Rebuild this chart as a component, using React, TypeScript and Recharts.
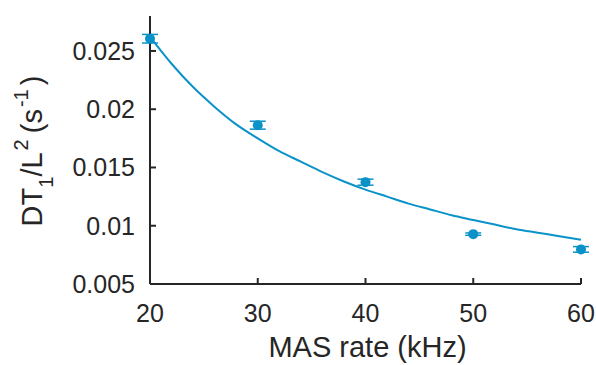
import React from 'react';
import { ComposedChart, Line, Scatter, XAxis, YAxis, ErrorBar } from 'recharts';

const masRates = [20, 30, 40, 50, 60];
const dtValues = [0.02605, 0.01863, 0.01374, 0.00928, 0.00797];
const dtErrors = [0.00037, 0.00034, 0.00026, 0.0001, 0.00024];

const fitX = [20, 22, 24, 26, 28, 30, 32, 34, 36, 38, 40, 42, 44, 46, 48, 50, 52, 54, 56, 58, 60];
const fitY = [0.0262, 0.0239, 0.0219, 0.0202, 0.0187, 0.0175, 0.0164, 0.0155, 0.0146, 0.0138, 0.0131, 0.0125, 0.0119, 0.0114, 0.0109, 0.0105, 0.0101, 0.0097, 0.0094, 0.0091, 0.0088];

const xTicks = [20, 30, 40, 50, 60];
const yTicks = [0.005, 0.01, 0.015, 0.02, 0.025];
const yTickLabels = ['0.005', '0.01', '0.015', '0.02', '0.025'];

const points = masRates.map((x, i) => ({ x, y: dtValues[i], err: dtErrors[i] }));
const fit = fitX.map((x, i) => ({ x, y: fitY[i] }));

const BLUE = '#0b93c9';
const AXIS = '#262626';
const FONT = '"Liberation Sans", Arial, Helvetica, sans-serif';

const XTick = (props: any) => {
  const { x, y, payload } = props;
  return (
    <g>
      <line x1={x} y1={y} x2={x} y2={y - 6} stroke={AXIS} strokeWidth={2} />
      <text x={x} y={y + 38} textAnchor="middle" fontSize={25} fontFamily={FONT} fill={AXIS}>
        {payload.value}
      </text>
    </g>
  );
};

const YTick = (props: any) => {
  const { x, y, payload } = props;
  const idx = yTicks.indexOf(payload.value);
  const label = idx >= 0 ? yTickLabels[idx] : String(payload.value);
  return (
    <g>
      <line x1={x} y1={y} x2={x + 6} y2={y} stroke={AXIS} strokeWidth={2} />
      <text x={x - 15} y={y + 9} textAnchor="end" fontSize={25} fontFamily={FONT} fill={AXIS}>
        {label}
      </text>
    </g>
  );
};

const XLabel = (props: any) => {
  const vb = props.viewBox || {};
  const cx = (vb.x || 0) + (vb.width || 0) / 2;
  return (
    <text x={cx + 2} y={357} textAnchor="middle" fontSize={29} fontFamily={FONT} fill={AXIS}>
      MAS rate (kHz)
    </text>
  );
};

const YLabel = () => {
  const x = 42;
  const y = 151;
  return (
    <text
      x={x}
      y={y}
      transform={`rotate(-90, ${x}, ${y})`}
      textAnchor="middle"
      fontSize={29}
      fontFamily={FONT}
      fill={AXIS}
    >
      DT
      <tspan dy={11} fontSize={20}>1</tspan>
      <tspan dy={-11}>/L</tspan>
      <tspan dx={2} dy={-14} fontSize={20}>2</tspan>
      <tspan dx={6} dy={14}>(s</tspan>
      <tspan dx={2} dy={-14} fontSize={20}>-1</tspan>
      <tspan dx={4} dy={14}>)</tspan>
    </text>
  );
};

const Dot = (props: any) => {
  const { cx, cy } = props;
  if (cx == null || cy == null) return null;
  return <circle cx={cx} cy={cy} r={5} fill={BLUE} />;
};

export default function App() {
  return (
    <div style={{ position: 'absolute', left: 0, top: 0, width: 596, height: 365, background: '#fff' }}>
      <ComposedChart width={596} height={365} margin={{ top: 16, right: 15, bottom: 0, left: 0 }}>
        <XAxis
          type="number"
          dataKey="x"
          domain={[20, 60]}
          ticks={xTicks}
          height={81}
          tickSize={0}
          tickMargin={0}
          tickLine={false}
          axisLine={{ stroke: AXIS, strokeWidth: 2 }}
          tick={<XTick />}
          interval={0}
          label={<XLabel />}
        />
        <YAxis
          type="number"
          dataKey="y"
          domain={[0.005, 0.028]}
          ticks={yTicks}
          width={150}
          tickSize={0}
          tickMargin={0}
          tickLine={false}
          axisLine={{ stroke: AXIS, strokeWidth: 2 }}
          tick={<YTick />}
          interval={0}
          label={<YLabel />}
        />
        <Line
          data={fit}
          dataKey="y"
          type="monotone"
          stroke={BLUE}
          strokeWidth={2}
          dot={false}
          activeDot={false}
          isAnimationActive={false}
        />
        <Scatter data={points} dataKey="y" fill={BLUE} shape={<Dot />} isAnimationActive={false}>
          <ErrorBar dataKey="err" direction="y" width={8} stroke={BLUE} strokeWidth={1.5} />
        </Scatter>
      </ComposedChart>
    </div>
  );
}
